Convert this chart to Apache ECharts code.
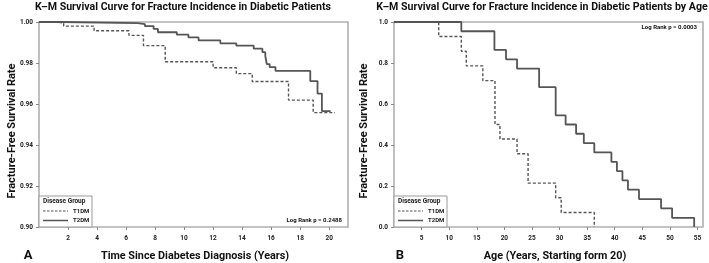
<!DOCTYPE html>
<html>
<head>
<meta charset="utf-8">
<script src="https://cdn.jsdelivr.net/npm/echarts@6/dist/echarts.min.js"></script>
<style>
html,body{margin:0;padding:0;background:#fff;}
#c{width:709px;height:263px;}
</style>
</head>
<body>
<div id="c"></div>
<script>
// ---- Panel A data (time since diagnosis, years) ----
const timeA_T1DM = [0, 1.2, 1.7, 3.8, 6.2, 7.2, 8.7, 12.0, 13.6, 14.7, 17.2, 18.9, 20.4];
const survA_T1DM = [1.0, 0.9995, 0.998, 0.9957, 0.9935, 0.9885, 0.9806, 0.9777, 0.9748, 0.971, 0.9619, 0.9558, 0.9558];
const timeA_T2DM = [0, 1.6, 6.8, 7.3, 7.9, 8.2, 9.5, 10.3, 11.0, 12.5, 13.6, 14.8, 15.4, 15.6, 15.7, 15.9, 16.3, 18.7, 19.2, 19.5, 20.1];
const survA_T2DM = [1.0, 0.9995, 0.999, 0.998, 0.9966, 0.995, 0.9938, 0.9925, 0.991, 0.9896, 0.9885, 0.987, 0.9853, 0.9834, 0.9795, 0.978, 0.9762, 0.9712, 0.9651, 0.9565, 0.9565];

// ---- Panel B data (age, years starting from 20) ----
const timeB_T1DM = [0, 8.1, 12.2, 13.1, 16.1, 18.3, 19.2, 22.3, 24.3, 29.3, 30.3, 36.3];
const survB_T1DM = [1.0, 0.929, 0.857, 0.786, 0.714, 0.5, 0.429, 0.357, 0.214, 0.143, 0.071, 0.0];
const timeB_T2DM = [0, 12.2, 18.2, 20.3, 22.3, 26.3, 29.3, 31.1, 33.0, 34.4, 36.3, 39.4, 40.4, 41.4, 42.4, 44.4, 48.4, 50.4, 54.4];
const survB_T2DM = [1.0, 0.955, 0.864, 0.818, 0.773, 0.682, 0.545, 0.5, 0.455, 0.409, 0.364, 0.318, 0.273, 0.227, 0.182, 0.136, 0.091, 0.045, 0.0];

const groupNames = ['T1DM', 'T2DM'];
const titles = ['K\u2013M Survival Curve for Fracture Incidence in Diabetic Patients',
                'K\u2013M Survival Curve for Fracture Incidence in Diabetic Patients by Age'];
const xTitles = ['Time Since Diabetes Diagnosis (Years)', 'Age (Years, Starting form 20)'];
const yTitle = 'Fracture-Free Survival Rate';
const logRank = ['Log Rank p = 0.2488', 'Log Rank p = 0.0003'];
const panelLetters = ['A', 'B'];

const pairs = (t, s) => t.map((v, i) => [v, s[i]]);

const LINE = '#555555';
const FRAME = '#b0b0b0';
const FONT = 'Roboto, "Liberation Sans", sans-serif';

function legendGroup(x0, y0) {
  return {
    type: 'group', x: x0, y: y0,
    children: [
      { type: 'rect', shape: { x: 0, y: 0, width: 53, height: 31 }, style: { fill: '#fff', stroke: '#999', lineWidth: 1 } },
      { type: 'text', style: { x: 4, y: 5.5, text: 'Disease Group', font: 'bold 6.5px ' + FONT, fill: '#222', textVerticalAlign: 'middle', verticalAlign: 'middle' } },
      { type: 'line', shape: { x1: 4, y1: 15, x2: 29, y2: 15 }, style: { stroke: LINE, lineWidth: 1.2, lineDash: [2.5, 1.5] } },
      { type: 'text', style: { x: 34, y: 15, text: groupNames[0], font: 'bold 6px ' + FONT, fill: '#222', textVerticalAlign: 'middle', verticalAlign: 'middle' } },
      { type: 'line', shape: { x1: 4, y1: 24.5, x2: 29, y2: 24.5 }, style: { stroke: LINE, lineWidth: 1.5 } },
      { type: 'text', style: { x: 34, y: 24.5, text: groupNames[1], font: 'bold 6px ' + FONT, fill: '#222', textVerticalAlign: 'middle', verticalAlign: 'middle' } }
    ]
  };
}

function txt(x, y, text, font, align, valign, rot) {
  return {
    type: 'text', x: x, y: y, rotation: rot || 0,
    style: { x: 0, y: 0, text: text, font: font, fill: '#111',
      textAlign: align, align: align, textVerticalAlign: valign, verticalAlign: valign }
  };
}

const chart = echarts.init(document.getElementById('c'), null, { renderer: 'canvas' });

const axisLabelStyle = { fontSize: 6.5, fontWeight: 'bold', color: '#222', fontFamily: FONT };

const option = {
  animation: false,
  backgroundColor: '#fff',
  grid: [
    { left: 39, top: 22, width: 309, height: 205, show: true, borderColor: FRAME, borderWidth: 1.6, backgroundColor: 'transparent' },
    { left: 394, top: 22, width: 309, height: 205, show: true, borderColor: FRAME, borderWidth: 1.6, backgroundColor: 'transparent' }
  ],
  xAxis: [
    { gridIndex: 0, type: 'value', min: 0, max: 21.3, interval: 2,
      axisLine: { show: false }, splitLine: { show: false },
      axisTick: { show: true, length: 3, lineStyle: { color: '#888' } },
      axisLabel: Object.assign({ margin: 8, showMinLabel: false, showMaxLabel: false }, axisLabelStyle) },
    { gridIndex: 1, type: 'value', min: 0, max: 56, interval: 5,
      axisLine: { show: false }, splitLine: { show: false },
      axisTick: { show: true, length: 3, lineStyle: { color: '#888' } },
      axisLabel: Object.assign({ margin: 8, showMinLabel: false, showMaxLabel: false }, axisLabelStyle) }
  ],
  yAxis: [
    { gridIndex: 0, type: 'value', min: 0.9, max: 1.0, interval: 0.02,
      axisLine: { show: false }, splitLine: { show: false },
      axisTick: { show: true, length: 3, lineStyle: { color: '#888' } },
      axisLabel: Object.assign({ margin: 6, formatter: v => v.toFixed(2) }, axisLabelStyle) },
    { gridIndex: 1, type: 'value', min: 0, max: 1.0, interval: 0.2,
      axisLine: { show: false }, splitLine: { show: false },
      axisTick: { show: true, length: 3, lineStyle: { color: '#888' } },
      axisLabel: Object.assign({ margin: 6, formatter: v => v.toFixed(1) }, axisLabelStyle) }
  ],
  series: [
    { name: groupNames[0], type: 'line', step: 'end', xAxisIndex: 0, yAxisIndex: 0, showSymbol: false,
      data: pairs(timeA_T1DM, survA_T1DM), lineStyle: { color: LINE, width: 1.4, type: [3, 2] } },
    { name: groupNames[1], type: 'line', step: 'end', xAxisIndex: 0, yAxisIndex: 0, showSymbol: false,
      data: pairs(timeA_T2DM, survA_T2DM), lineStyle: { color: LINE, width: 1.8 } },
    { name: groupNames[0], type: 'line', step: 'end', xAxisIndex: 1, yAxisIndex: 1, showSymbol: false,
      data: pairs(timeB_T1DM, survB_T1DM), lineStyle: { color: LINE, width: 1.4, type: [3, 2] } },
    { name: groupNames[1], type: 'line', step: 'end', xAxisIndex: 1, yAxisIndex: 1, showSymbol: false,
      data: pairs(timeB_T2DM, survB_T2DM), lineStyle: { color: LINE, width: 1.8 } }
  ],
  graphic: [
    txt(183, 7, titles[0], 'bold 10.6px ' + FONT, 'center', 'middle'),
    txt(542, 7, titles[1], 'bold 10.6px ' + FONT, 'center', 'middle'),
    txt(195, 256, xTitles[0], 'bold 10.8px ' + FONT, 'center', 'middle'),
    txt(555, 256, xTitles[1], 'bold 10.8px ' + FONT, 'center', 'middle'),
    txt(12, 131, yTitle, 'bold 11px ' + FONT, 'center', 'middle', Math.PI / 2),
    txt(364, 131, yTitle, 'bold 11px ' + FONT, 'center', 'middle', Math.PI / 2),
    txt(342, 220, logRank[0], 'bold 6px ' + FONT, 'right', 'middle'),
    txt(697, 27, logRank[1], 'bold 6px ' + FONT, 'right', 'middle'),
    txt(28, 256, panelLetters[0], 'bold 13px ' + FONT, 'center', 'middle'),
    txt(400, 256, panelLetters[1], 'bold 13px ' + FONT, 'center', 'middle'),
    legendGroup(39, 196),
    legendGroup(394, 196)
  ]
};
chart.setOption(option);
</script>
</body>
</html>
